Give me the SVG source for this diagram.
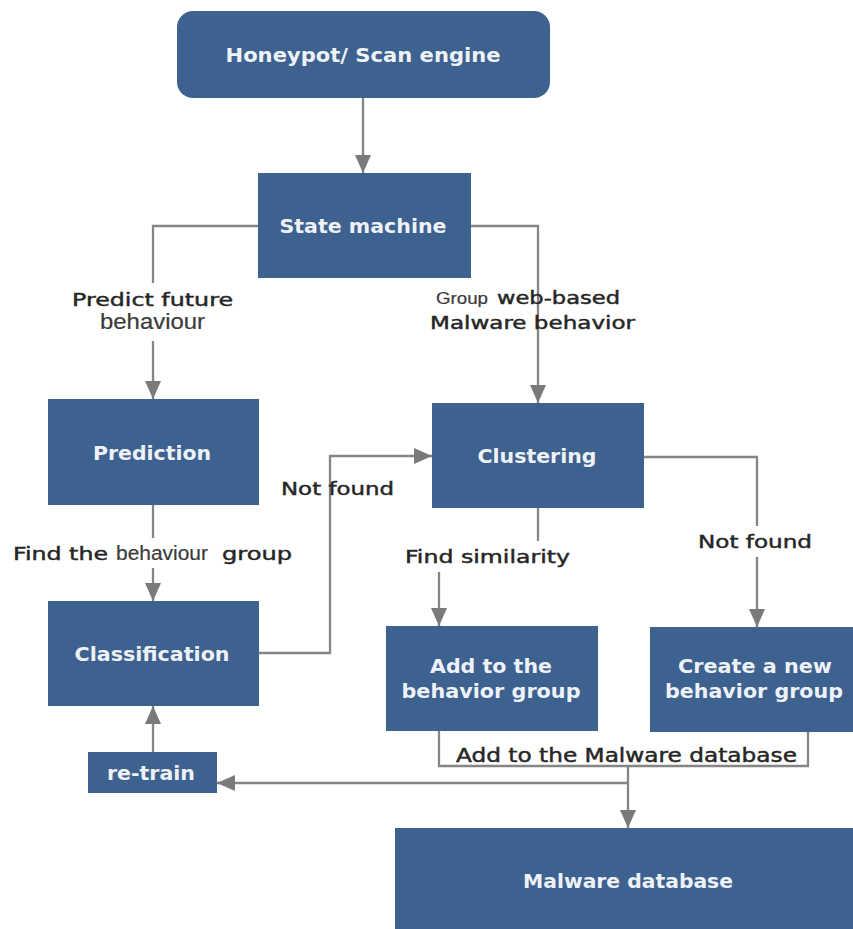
<svg xmlns="http://www.w3.org/2000/svg" width="853" height="929" viewBox="0 0 853 929">
  <defs>
    <marker id="arrow" markerUnits="userSpaceOnUse" markerWidth="18" markerHeight="16" refX="18" refY="8" orient="auto">
      <path d="M0,0 L18,8 L0,16 Z" fill="#7a7a7a"/>
    </marker>
    <style>
      .box { fill: #3e6290; }
      .ntext { font-family: "DejaVu Sans", Verdana, sans-serif; font-weight: bold; fill: #eef2f7; text-anchor: middle; }
      .lbl { font-family: "DejaVu Sans", Verdana, sans-serif; fill: #262626; stroke: #262626; stroke-width: 0.45; }
      .lbl2 { font-family: "Liberation Sans", Arial, sans-serif; fill: #3a3a3a; stroke: #3a3a3a; stroke-width: 0.2; }
      .conn { fill: none; stroke: #858585; stroke-width: 2.3; }
      .bg { fill: #ffffff; }
    </style>
  </defs>
  <rect width="853" height="929" fill="#ffffff"/>

  <!-- connectors -->
  <g id="connectors">
    <path class="conn" d="M363,98 V173" marker-end="url(#arrow)"/>
    <path class="conn" d="M258,226 H153 V399" marker-end="url(#arrow)"/>
    <path class="conn" d="M471,226 H538 V403" marker-end="url(#arrow)"/>
    <path class="conn" d="M153,505 V601" marker-end="url(#arrow)"/>
    <path class="conn" d="M259,653 H330 V456 H432" marker-end="url(#arrow)"/>
    <path class="conn" d="M538,508 V556 H439 V626" marker-end="url(#arrow)"/>
    <path class="conn" d="M644,457 H757 V627" marker-end="url(#arrow)"/>
    <path class="conn" d="M439,731 V766 H808 V732"/>
    <path class="conn" d="M628,766 V828" marker-end="url(#arrow)"/>
    <path class="conn" d="M628,783 H217" marker-end="url(#arrow)"/>
    <path class="conn" d="M153,752 V706" marker-end="url(#arrow)"/>
  </g>

  <!-- connector labels -->
  <g id="labels">
    <rect class="bg" x="64" y="283" width="178" height="58"/>
    <text class="lbl" x="72" y="306" font-size="18" textLength="161" lengthAdjust="spacingAndGlyphs">Predict future</text>
    <text class="lbl2" x="100" y="329" font-size="22" textLength="105" lengthAdjust="spacingAndGlyphs">behaviour</text>

    <text class="lbl2" x="436" y="304" font-size="16" textLength="52" lengthAdjust="spacingAndGlyphs">Group</text>
    <text class="lbl" x="497" y="304" font-size="17" textLength="123" lengthAdjust="spacingAndGlyphs">web-based</text>
    <text class="lbl" x="430" y="329" font-size="18" textLength="205" lengthAdjust="spacingAndGlyphs">Malware behavior</text>

    <rect class="bg" x="8" y="538" width="290" height="30"/>
    <text class="lbl" x="13" y="560" font-size="18" textLength="95" lengthAdjust="spacingAndGlyphs">Find the</text>
    <text class="lbl2" x="116" y="560" font-size="20" textLength="92" lengthAdjust="spacingAndGlyphs">behaviour</text>
    <text class="lbl" x="222" y="560" font-size="18" textLength="70" lengthAdjust="spacingAndGlyphs">group</text>

    <text class="lbl" x="281" y="495" font-size="18" textLength="113" lengthAdjust="spacingAndGlyphs">Not found</text>

    <rect class="bg" x="400" y="541" width="176" height="31"/>
    <text class="lbl" x="405" y="563" font-size="18" textLength="165" lengthAdjust="spacingAndGlyphs">Find similarity</text>

    <rect class="bg" x="693" y="526" width="124" height="31"/>
    <text class="lbl" x="698" y="548" font-size="18" textLength="114" lengthAdjust="spacingAndGlyphs">Not found</text>

    <text class="lbl" x="456" y="762" font-size="19" textLength="341" lengthAdjust="spacingAndGlyphs">Add to the Malware database</text>
  </g>

  <!-- nodes -->
  <g id="honeypot">
    <rect class="box" x="177" y="11" width="373" height="87" rx="16"/>
    <text class="ntext" x="363" y="62" font-size="19" textLength="275" lengthAdjust="spacingAndGlyphs">Honeypot/ Scan engine</text>
  </g>
  <g id="state-machine">
    <rect class="box" x="258" y="173" width="213" height="105"/>
    <text class="ntext" x="363" y="233" font-size="20" textLength="167" lengthAdjust="spacingAndGlyphs">State machine</text>
  </g>
  <g id="prediction">
    <rect class="box" x="48" y="399" width="211" height="106"/>
    <text class="ntext" x="152" y="460" font-size="20" textLength="118" lengthAdjust="spacingAndGlyphs">Prediction</text>
  </g>
  <g id="classification">
    <rect class="box" x="48" y="601" width="211" height="105"/>
    <text class="ntext" x="152" y="661" font-size="20" textLength="155" lengthAdjust="spacingAndGlyphs">Classification</text>
  </g>
  <g id="clustering">
    <rect class="box" x="432" y="403" width="212" height="105"/>
    <text class="ntext" x="537" y="463" font-size="20" textLength="119" lengthAdjust="spacingAndGlyphs">Clustering</text>
  </g>
  <g id="add-group">
    <rect class="box" x="386" y="626" width="212" height="105"/>
    <text class="ntext" x="491" y="673" font-size="20" textLength="122" lengthAdjust="spacingAndGlyphs">Add to the</text>
    <text class="ntext" x="491" y="698" font-size="20" textLength="179" lengthAdjust="spacingAndGlyphs">behavior group</text>
  </g>
  <g id="create-group">
    <rect class="box" x="650" y="627" width="210" height="105"/>
    <text class="ntext" x="755" y="673" font-size="20" textLength="154" lengthAdjust="spacingAndGlyphs">Create a new</text>
    <text class="ntext" x="754" y="698" font-size="20" textLength="178" lengthAdjust="spacingAndGlyphs">behavior group</text>
  </g>
  <g id="retrain">
    <rect class="box" x="88" y="752" width="129" height="41"/>
    <text class="ntext" x="151" y="780" font-size="19" textLength="88" lengthAdjust="spacingAndGlyphs">re-train</text>
  </g>
  <g id="malware-db">
    <rect class="box" x="395" y="828" width="470" height="110"/>
    <text class="ntext" x="628" y="888" font-size="20" textLength="210" lengthAdjust="spacingAndGlyphs">Malware database</text>
  </g>
</svg>
